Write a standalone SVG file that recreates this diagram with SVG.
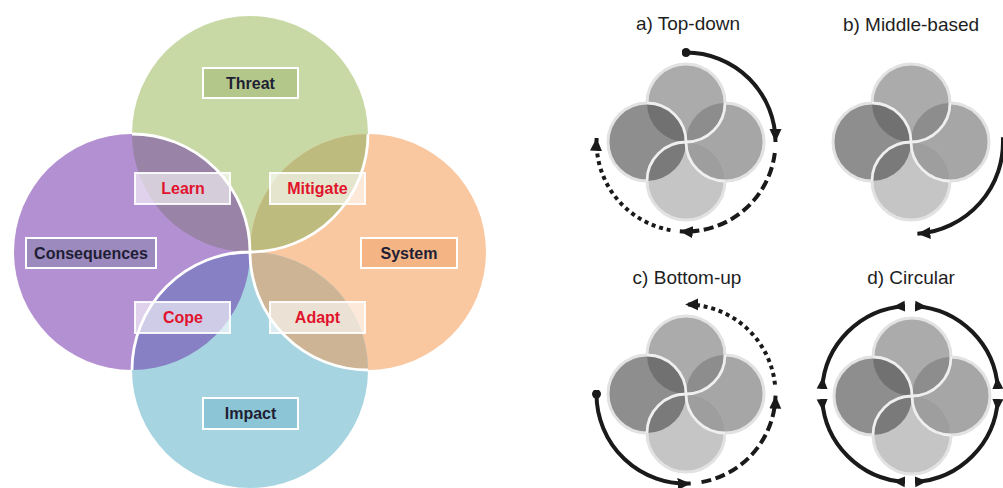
<svg xmlns="http://www.w3.org/2000/svg" xmlns:xlink="http://www.w3.org/1999/xlink" width="1003" height="488" viewBox="0 0 1003 488">
<style>
.lbl{font-family:"Liberation Sans",Arial,sans-serif;font-weight:bold;font-size:16px;text-anchor:middle}
.dark{fill:#1e1e34}
.red{fill:#e0142d}
.box{stroke:#ffffff;stroke-width:2}
.wbox{fill:#ffffff;fill-opacity:0.6;stroke:#ffffff;stroke-width:2;stroke-opacity:0.9}
.pin{fill:none;stroke:#ffffff;stroke-width:2.8}
.title{font-family:"Liberation Sans",Arial,sans-serif;font-size:19px;fill:#1e1e1e;text-anchor:middle}
.gpin{fill:none;stroke:#efefef;stroke-width:2.8}
.gout{fill:none;stroke:#e2e2e2;stroke-width:3}
.arr{fill:none;stroke:#1a1a1a;stroke-width:4}
.dash{stroke-dasharray:10 4.5}
.dot{stroke-dasharray:4 3.8}
</style>
<defs>
<marker id="ah" markerUnits="userSpaceOnUse" viewBox="0 0 13 13" refX="13" refY="6.5" markerWidth="13" markerHeight="13" orient="auto"><path d="M0,0.5 L13,6.5 L0,12.5 Z" fill="#1a1a1a"/></marker>
<marker id="fwd" markerUnits="userSpaceOnUse" viewBox="0 0 12 12" refX="0" refY="6" markerWidth="12" markerHeight="12" orient="auto"><path d="M0,0.5 L12,6 L0,11.5 Z" fill="#1a1a1a"/></marker>
<marker id="back" markerUnits="userSpaceOnUse" viewBox="0 0 12 12" refX="12" refY="6" markerWidth="12" markerHeight="12" orient="auto"><path d="M12,0.5 L0,6 L12,11.5 Z" fill="#1a1a1a"/></marker>
<marker id="dotm" markerUnits="userSpaceOnUse" viewBox="0 0 10 10" refX="5" refY="5" markerWidth="9" markerHeight="9"><circle cx="5" cy="5" r="5" fill="#1a1a1a"/></marker>
<g id="pinwheel">
<circle cx="0" cy="-39" r="39" fill="#ababab"/>
<circle cx="-39" cy="0" r="39" fill="#8e8e8e"/>
<circle cx="39" cy="0" r="39" fill="#a6a6a6"/>
<circle cx="0" cy="39" r="39" fill="#c5c5c5"/>
<path d="M-39,-39 A39,39 0 0 1 0,0 A39,39 0 0 1 -39,-39Z" fill="#717171"/>
<path d="M0,0 A39,39 0 0 1 39,-39 A39,39 0 0 1 0,0Z" fill="#8d8d8d"/>
<path d="M0,0 A39,39 0 0 1 -39,39 A39,39 0 0 1 0,0Z" fill="#7a7a7a"/>
<path d="M39,39 A39,39 0 0 1 0,0 A39,39 0 0 1 39,39Z" fill="#9e9e9e"/>
<path class="gout" d="M-39,-39 A39,39 0 0 1 39,-39 M39,-39 A39,39 0 0 1 39,39 M39,39 A39,39 0 0 1 -39,39 M-39,39 A39,39 0 0 1 -39,-39"/>
<path class="gpin" d="M-39,-39 A39,39 0 0 1 0,0 M39,-39 A39,39 0 0 1 0,0 M-39,39 A39,39 0 0 1 0,0 M39,39 A39,39 0 0 1 0,0"/>
</g>
</defs>
<rect width="1003" height="488" fill="#ffffff"/>

<g id="venn-circles">
<circle id="threat-circle" cx="250" cy="134" r="118" fill="#c9d9a6"/>
<circle id="consequences-circle" cx="132" cy="252" r="118" fill="#b290d2"/>
<circle id="system-circle" cx="368" cy="252" r="118" fill="#f9c8a1"/>
<circle id="impact-circle" cx="250" cy="370" r="118" fill="#a7d4e1"/>
<path d="M132,134 A118,118 0 0 1 250,252 A118,118 0 0 1 132,134Z" fill="#9983a6"/>
<path d="M250,252 A118,118 0 0 1 368,134 A118,118 0 0 1 250,252Z" fill="#bebb7f"/>
<path d="M250,252 A118,118 0 0 1 132,370 A118,118 0 0 1 250,252Z" fill="#8880c5"/>
<path d="M368,370 A118,118 0 0 1 250,252 A118,118 0 0 1 368,370Z" fill="#ccb494"/>
<path class="pin" d="M132,134 A118,118 0 0 1 250,252 M368,134 A118,118 0 0 1 250,252 M132,370 A118,118 0 0 1 250,252 M368,370 A118,118 0 0 1 250,252"/>
</g>

<g id="threat"><rect class="box" x="203" y="68" width="95" height="30" fill="#b4c78a"/><text class="lbl dark" x="250.5" y="88.5">Threat</text></g>
<g id="consequences"><rect class="box" x="26" y="238" width="130" height="30" fill="#9c8abe"/><text class="lbl dark" x="91" y="258.5">Consequences</text></g>
<g id="system"><rect class="box" x="361" y="238" width="96" height="30" fill="#f4b484"/><text class="lbl dark" x="409" y="258.5">System</text></g>
<g id="impact"><rect class="box" x="203" y="398" width="95" height="31" fill="#8cc6d6"/><text class="lbl dark" x="250.5" y="419">Impact</text></g>
<g id="learn"><rect class="wbox" x="135" y="173" width="95" height="31"/><text class="lbl red" x="183" y="194">Learn</text></g>
<g id="mitigate"><rect class="wbox" x="270" y="173" width="95" height="31"/><text class="lbl red" x="317.5" y="194">Mitigate</text></g>
<g id="cope"><rect class="wbox" x="135" y="302" width="95" height="31"/><text class="lbl red" x="183" y="323">Cope</text></g>
<g id="adapt"><rect class="wbox" x="270" y="302" width="95" height="31"/><text class="lbl red" x="317.5" y="323">Adapt</text></g>

<g id="panel-a"><text class="title" x="688" y="30">a) Top-down</text><use href="#pinwheel" xlink:href="#pinwheel" transform="translate(686,142)"/></g>
<g id="panel-b"><text class="title" x="911" y="31">b) Middle-based</text><use href="#pinwheel" xlink:href="#pinwheel" transform="translate(911,142)"/></g>
<g id="panel-c"><text class="title" x="687" y="284">c) Bottom-up</text><use href="#pinwheel" xlink:href="#pinwheel" transform="translate(686,394)"/></g>
<g id="panel-d"><text class="title" x="911" y="284">d) Circular</text><use href="#pinwheel" xlink:href="#pinwheel" transform="translate(912,396)"/></g>

<g id="connectors">
<path class="arr" d="M686,52.5 A89.5,89.5 0 0 1 775.5,142" marker-start="url(#dotm)" marker-end="url(#ah)"/>
<path class="arr dash" d="M774.8,152.9 A89.5,89.5 0 0 1 679.8,231.3" marker-end="url(#ah)"/>
<path class="arr dot" d="M670.5,230.1 A89.5,89.5 0 0 1 596.6,137.9" marker-end="url(#ah)"/>

<path class="arr" d="M1002.9,137.2 A92,92 0 0 1 917.4,233.8" marker-end="url(#ah)"/>

<path class="arr" d="M596.5,394 A89.5,89.5 0 0 0 690.7,483.4" marker-start="url(#dotm)" marker-end="url(#ah)"/>
<path class="arr dash" d="M701.5,482.1 A89.5,89.5 0 0 0 775.5,395.6" marker-end="url(#ah)"/>
<path class="arr dot" d="M775,384.6 A89.5,89.5 0 0 0 685.2,304.5" marker-end="url(#ah)"/>

<path class="arr" d="M915.07,306.15 A88,88 0 0 1 997.85,388.93" marker-start="url(#fwd)" marker-end="url(#back)"/>
<path class="arr" d="M997.85,399.07 A88,88 0 0 1 915.07,481.85" marker-start="url(#fwd)" marker-end="url(#back)"/>
<path class="arr" d="M904.93,481.85 A88,88 0 0 1 822.15,399.07" marker-start="url(#fwd)" marker-end="url(#back)"/>
<path class="arr" d="M822.15,388.93 A88,88 0 0 1 904.93,306.15" marker-start="url(#fwd)" marker-end="url(#back)"/>
</g>
</svg>
